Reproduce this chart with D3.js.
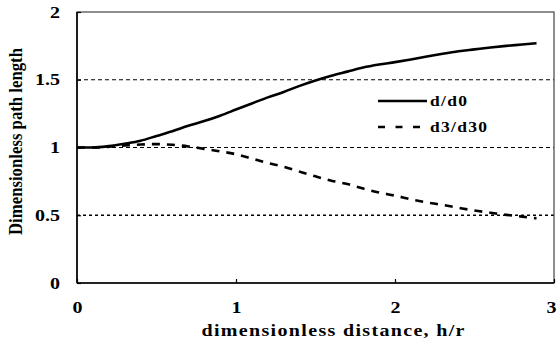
<!DOCTYPE html>
<html><head><meta charset="utf-8">
<script src="https://cdn.jsdelivr.net/npm/d3@7"></script>
<style>body{margin:0;background:#fff}svg{display:block}text{font-family:"Liberation Serif","Times New Roman",serif;font-weight:bold;fill:#000}</style>
</head><body>
<svg id="c" width="558" height="345"></svg>
<script>
const xVals = [0,0.1,0.2,0.3,0.4,0.5,0.6,0.7,0.8,0.9,1.0,1.1,1.2,1.3,1.4,1.5,1.6,1.7,1.8,1.9,2.0,2.1,2.2,2.3,2.4,2.5,2.6,2.7,2.8,2.89];
const dRatio = [1.0,1.0,1.01,1.028,1.05,1.085,1.12,1.16,1.195,1.235,1.28,1.325,1.37,1.41,1.455,1.495,1.53,1.56,1.59,1.612,1.63,1.65,1.672,1.692,1.71,1.724,1.738,1.75,1.76,1.77];
const d3Ratio = [1.0,1.0,1.005,1.015,1.022,1.025,1.02,1.008,0.99,0.972,0.95,0.918,0.885,0.858,0.822,0.787,0.755,0.73,0.697,0.668,0.645,0.618,0.595,0.576,0.555,0.535,0.519,0.503,0.49,0.477];
const seriesNames = ["d/d0","d3/d30"];
const xTicks = [0,1,2,3];
const yTicks = [0,0.5,1,1.5,2];
const gridVals = [0.5,1,1.5];

const SX = 1.25; // horizontal stretch of glyphs seen in the reference
const svg = d3.select("#c");
const L=77,R=554,T=12,B=283;
const x = d3.scaleLinear().domain([0,3]).range([L,R]);
const y = d3.scaleLinear().domain([0,2]).range([B,T]);

// gridlines
svg.selectAll(".grid").data(gridVals).enter().append("line")
  .attr("x1",L).attr("x2",R).attr("y1",d=>y(d)).attr("y2",d=>y(d))
  .attr("stroke","#000").attr("stroke-width",d=>d===0.5?1.6:1.1)
  .attr("stroke-dasharray",d=>d===0.5?"3,3":"4,3");

// frame
svg.append("rect").attr("x",L).attr("y",T).attr("width",R-L).attr("height",B-T)
  .attr("fill","none").attr("stroke","#444").attr("stroke-width",1.2);
svg.append("line").attr("x1",L).attr("x2",L).attr("y1",T).attr("y2",B).attr("stroke","#000").attr("stroke-width",1.6);
svg.append("line").attr("x1",L).attr("x2",R).attr("y1",B).attr("y2",B).attr("stroke","#000").attr("stroke-width",1.6);

// axes
const xAxis = svg.append("g").attr("transform",`translate(0,${B})`)
  .call(d3.axisBottom(x).tickValues(xTicks).tickFormat(d3.format("d")).tickSizeInner(-4).tickSizeOuter(0).tickPadding(19));
const yAxis = svg.append("g").attr("transform",`translate(${L},0)`)
  .call(d3.axisLeft(y).tickValues(yTicks).tickFormat(d=>d).tickSizeInner(-4).tickSizeOuter(0).tickPadding(17));
[xAxis,yAxis].forEach(g=>{
  g.select(".domain").remove();
  g.selectAll("line").attr("stroke","#000").attr("stroke-width",1.2);
  g.selectAll("text").attr("font-size",16).attr("font-family",null);
});
// keep the last label inside the 558px canvas
xAxis.selectAll("text").attr("transform",d=>`translate(${d===3?-3:0},0) scale(${SX},1)`);
yAxis.selectAll("text").attr("transform",`translate(-17,0) scale(${SX},1) translate(17,0)`);

// lines
const data1 = xVals.map((v,i)=>[v,dRatio[i]]);
const data2 = xVals.map((v,i)=>[v,d3Ratio[i]]);
const line = d3.line().x(d=>x(d[0])).y(d=>y(d[1])).curve(d3.curveMonotoneX);
svg.append("path").datum(data1).attr("d",line).attr("fill","none").attr("stroke","#000").attr("stroke-width",2.6);
svg.append("path").datum(data2).attr("d",line).attr("fill","none").attr("stroke","#000").attr("stroke-width",2.6).attr("stroke-dasharray","8,7");

// legend
const leg = [{y:101,dash:null,x2:427,w:37},{y:127,dash:"7,10.5",x2:420,w:57}];
leg.forEach((l,i)=>{
  svg.append("line").attr("x1",378).attr("x2",l.x2).attr("y1",l.y).attr("y2",l.y)
    .attr("stroke","#000").attr("stroke-width",2.6).attr("stroke-dasharray",l.dash);
  svg.append("text").attr("x",0).attr("y",0)
    .attr("transform",`translate(430,${l.y+5}) scale(${SX},1)`)
    .attr("font-size",14).attr("textLength",l.w/SX).attr("lengthAdjust","spacing")
    .text(seriesNames[i]);
});

// axis titles
svg.append("text").attr("x",0).attr("y",0)
  .attr("transform",`translate(333,336) scale(${SX},1)`).attr("text-anchor","middle")
  .attr("font-size",16).attr("textLength",263/SX).attr("lengthAdjust","spacing")
  .text("dimensionless distance, h/r");
svg.append("text").attr("x",0).attr("y",0)
  .attr("transform",`translate(22,141.5) scale(${SX},1) rotate(-90)`).attr("text-anchor","middle")
  .attr("font-size",15).attr("textLength",187).attr("lengthAdjust","spacingAndGlyphs")
  .text("Dimensionless path length");
</script>
</body></html>
